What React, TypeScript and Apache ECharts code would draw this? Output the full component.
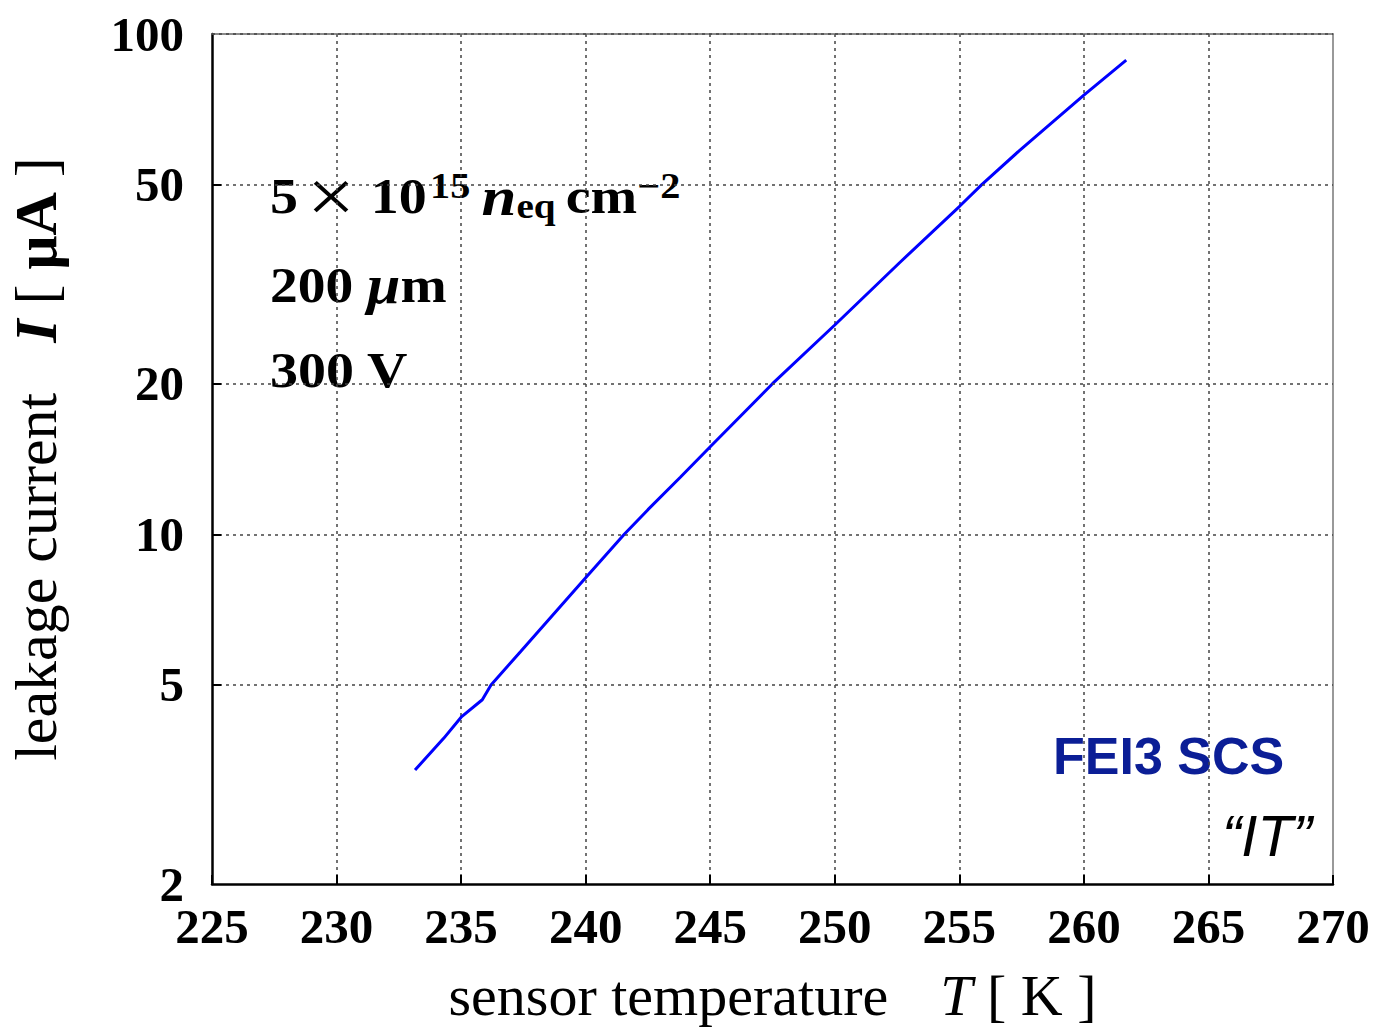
import React, { useEffect, useRef } from "react";
import * as echarts from "echarts";

// ---- data ----
const temperatureK = [
  233.15, 234.3, 235.0, 235.85, 236.2, 237.4, 240.0, 241.55, 242.5, 243.8,
  245.0, 247.5, 250.0, 252.6, 255.0, 255.9, 257.4, 260.0, 261.7,
];
const currentUA = [
  3.38, 3.91, 4.31, 4.67, 5.0, 5.84, 8.19, 10.0, 11.2, 13.0,
  14.96, 20.0, 26.2, 34.9, 45.2, 50.0, 58.4, 75.5, 88.7,
];
const xMin = 225;
const xMax = 270;
const xStep = 5;
const yMin = 2;
const yMax = 100;
const yTickValues = [2, 5, 10, 20, 50, 100];

const SERIF = "'Liberation Serif', 'DejaVu Serif', serif";
const SANS = "'Liberation Sans', Arial, sans-serif";

export default function App() {
  const ref = useRef<HTMLDivElement>(null);

  useEffect(() => {
    if (!ref.current) return;
    const chart = echarts.init(ref.current, undefined, { renderer: "svg" });

    const gridLine = { color: "#444", width: 1.5, type: [3, 4] as any };
    const tickLabel = {
      fontFamily: SERIF,
      fontWeight: "bold" as const,
      fontSize: 49,
      color: "#000",
    };

    const markData: any[] = [];
    yTickValues.forEach((v) => {
      const boundary = v === yMin;
      markData.push({
        yAxis: v,
        lineStyle: boundary ? { color: "rgba(0,0,0,0)", width: 0 } : gridLine,
        label: {
          show: true,
          position: "start",
          distance: 28,
          formatter: String(v),
          ...tickLabel,
        },
      });
      if (!boundary && v !== yMax) {
        markData.push([
          {
            coord: [xMin, v],
            lineStyle: { color: "#000", width: 2, type: "solid" },
            label: { show: false },
          },
          { coord: [xMin + 0.37, v] },
        ]);
      }
    });

    const bold = (size: number, extra: any = {}) => ({
      fontFamily: SERIF,
      fontWeight: "bold",
      fontSize: size,
      fill: "#000",
      ...extra,
    });

    const option: any = {
      animation: false,
      backgroundColor: "#fff",
      grid: {
        left: 212,
        right: 46,
        top: 34,
        bottom: 145,
        containLabel: false,
        outerBoundsMode: "none",
      },
      xAxis: [
        {
          type: "value",
          min: xMin,
          max: xMax,
          interval: xStep,
          position: "bottom",
          axisLine: { onZero: false, lineStyle: { color: "#000", width: 2.5 } },
          axisTick: { inside: true, length: 9, lineStyle: { color: "#000", width: 2 } },
          axisLabel: { ...tickLabel, margin: 18, showMinLabel: true, showMaxLabel: true },
          splitLine: { show: true, showMinLine: false, showMaxLine: false, lineStyle: gridLine },
          name: "{r|sensor temperature}{g|}{i|T}{r| [ K ]}",
          nameLocation: "middle",
          nameGap: 84,
          nameTextStyle: {
            rich: {
              r: { fontFamily: SERIF, fontSize: 58, lineHeight: 54, color: "#000" },
              i: { fontFamily: SERIF, fontSize: 58, lineHeight: 54, fontStyle: "italic", color: "#000" },
              g: { width: 52, lineHeight: 54 },
            },
          },
        },
        {
          type: "value",
          min: xMin,
          max: xMax,
          position: "top",
          axisLine: { onZero: false, lineStyle: { color: "#666", width: 1.5 } },
          axisTick: { show: false },
          axisLabel: { show: false },
          splitLine: { show: false },
        },
      ],
      yAxis: [
        {
          type: "log",
          logBase: 10,
          min: yMin,
          max: yMax,
          axisLine: { show: true, onZero: false, lineStyle: { color: "#000", width: 2.5 } },
          axisTick: { show: false },
          axisLabel: { show: false },
          splitLine: { show: false },
          name: "{r|leakage current}{g|}{i|I}{r| [ }{b|μA}{r| ]}",
          nameLocation: "middle",
          nameGap: 146,
          nameTextStyle: {
            rich: {
              r: { fontFamily: SERIF, fontSize: 60, lineHeight: 60, color: "#000" },
              i: { fontFamily: SERIF, fontSize: 60, lineHeight: 60, fontStyle: "italic", fontWeight: "bold", color: "#000" },
              b: { fontFamily: SERIF, fontSize: 60, lineHeight: 60, fontWeight: "bold", color: "#000" },
              g: { width: 50, lineHeight: 60 },
            },
          },
        },
        {
          type: "log",
          logBase: 10,
          min: yMin,
          max: yMax,
          position: "right",
          axisLine: { show: true, onZero: false, lineStyle: { color: "#777", width: 1.5 } },
          axisTick: { show: false },
          axisLabel: { show: false },
          splitLine: { show: false },
        },
      ],
      series: [
        {
          type: "line",
          data: [],
          z: 1,
          silent: true,
          markLine: { silent: true, symbol: "none", animation: false, data: markData },
        },
        {
          type: "line",
          z: 3,
          data: temperatureK.map((t, i) => [t, currentUA[i]]),
          showSymbol: false,
          symbol: "none",
          lineStyle: { color: "#0000ff", width: 3 },
        },
      ],
      graphic: [
        {
          type: "text",
          x: 270,
          y: 168,
          scaleX: 1.12,
          style: {
            text: "{a|5}{x|×}{t|10}{sp|15}{it|n}{sb|eq}{m|cm}{sp2|−2}",
            align: "left",
            verticalAlign: "top",
            rich: {
              a: bold(50, { lineHeight: 56, padding: [0, 8, 0, 0] }),
              x: { fontFamily: SERIF, fontSize: 76, lineHeight: 56, fill: "#000", padding: [0, 14, 0, 0] },
              t: bold(50, { lineHeight: 56, padding: [0, 3, 0, 0] }),
              sp: bold(36, { lineHeight: 34, verticalAlign: "top", padding: [0, 10, 0, 0] }),
              it: bold(56, { fontStyle: "italic", lineHeight: 56 }),
              sb: bold(35, { lineHeight: 34, verticalAlign: "bottom", padding: [0, 9, 0, 0] }),
              m: bold(50, { lineHeight: 56 }),
              sp2: bold(36, { lineHeight: 34, verticalAlign: "top" }),
            },
          },
        },
        {
          type: "text",
          x: 270,
          y: 257,
          scaleX: 1.11,
          style: {
            text: "{m|200 }{mu|μ}{m|m}",
            align: "left",
            verticalAlign: "top",
            rich: {
              m: bold(50, { lineHeight: 56 }),
              mu: bold(54, { fontStyle: "italic", lineHeight: 56 }),
            },
          },
        },
        {
          type: "text",
          x: 270,
          y: 342,
          scaleX: 1.12,
          style: {
            text: "300 V",
            align: "left",
            verticalAlign: "top",
            ...bold(50, { lineHeight: 56 }),
          },
        },
        {
          type: "text",
          left: 1053,
          top: 730,
          style: {
            text: "FEI3 SCS",
            fontFamily: SANS,
            fontWeight: "bold",
            fontSize: 52,
            fill: "#0b1e96",
          },
        },
        {
          type: "text",
          left: 1222,
          top: 806,
          style: {
            text: "“IT”",
            fontFamily: SANS,
            fontStyle: "italic",
            fontSize: 58,
            fill: "#000",
          },
        },
      ],
    };

    chart.setOption(option);
    return () => chart.dispose();
  }, []);

  return (
    <div
      ref={ref}
      style={{ position: "absolute", left: 0, top: 0, width: 1379, height: 1029, background: "#fff" }}
    />
  );
}
